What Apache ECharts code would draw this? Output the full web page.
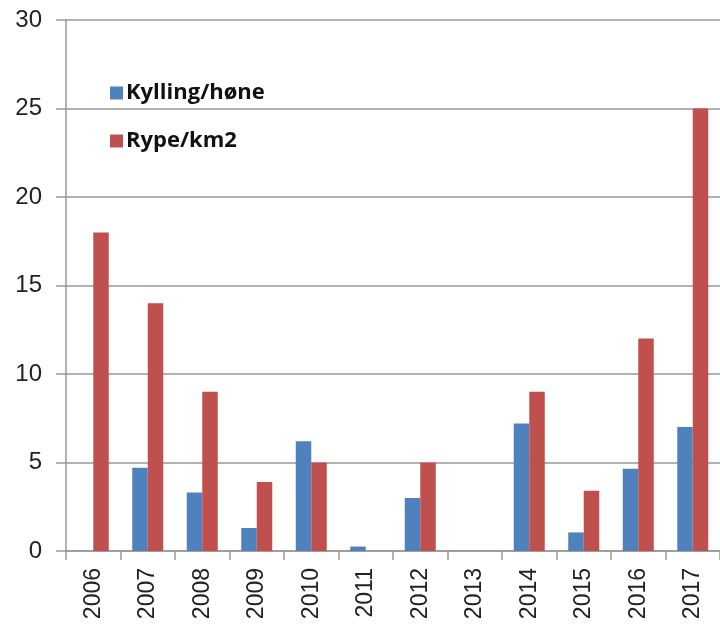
<!DOCTYPE html>
<html>
<head>
<meta charset="utf-8">
<script src="https://cdn.jsdelivr.net/npm/echarts@6/dist/echarts.min.js"></script>
<style>html,body{margin:0;padding:0;background:#fff}#c{width:720px;height:630px}</style>
</head>
<body>
<div id="c"></div>
<script>
const years = ['2006','2007','2008','2009','2010','2011','2012','2013','2014','2015','2016','2017'];
const kylling = [null, 4.7, 3.3, 1.3, 6.2, 0.25, 3.0, null, 7.2, 1.05, 4.65, 7.0];
const rype = [18, 14, 9, 3.9, 5, null, 5, null, 9, 3.4, 12, 25];
const seriesNames = ['Kylling/høne', 'Rype/km2'];
const yTicks = {min: 0, max: 30, interval: 5};

const chart = echarts.init(document.getElementById('c'), null, {renderer: 'canvas'});
chart.setOption({
  animation: false,
  grid: {left: 66, right: -5, top: 20, bottom: 79},
  legend: {
    orient: 'vertical', left: 105, top: 77, itemGap: 26,
    itemWidth: 13, itemHeight: 13, icon: 'rect',
    textStyle: {fontFamily: 'Open Sans', fontWeight: 'bold', fontSize: 22, lineHeight: 22, color: '#111', padding: [0,0,0,-2]},
    data: seriesNames
  },
  xAxis: {
    type: 'category', data: years,
    axisLine: {lineStyle: {color: '#999', width: 1.5}},
    axisTick: {show: true, length: 9, lineStyle: {color: '#999', width: 1.5}},
    axisLabel: {rotate: 90, fontFamily: 'Liberation Sans', fontSize: 23, color: '#222', margin: 17}
  },
  yAxis: {
    type: 'value', min: yTicks.min, max: yTicks.max, interval: yTicks.interval,
    axisLine: {show: true, lineStyle: {color: '#999', width: 1.5}},
    axisTick: {show: true, length: 10, lineStyle: {color: '#999', width: 1.5}},
    splitLine: {lineStyle: {color: '#999', width: 1.5}},
    axisLabel: {fontFamily: 'Liberation Sans', fontSize: 24, color: '#222', margin: 24}
  },
  series: [
    {name: seriesNames[0], type: 'bar', data: kylling, barWidth: 15.5, barGap: '0%',
     itemStyle: {color: '#4F81BD'}},
    {name: seriesNames[1], type: 'bar', data: rype, barWidth: 15.5, barGap: '0%',
     itemStyle: {color: '#C0504D'}}
  ]
});
</script>
</body>
</html>
